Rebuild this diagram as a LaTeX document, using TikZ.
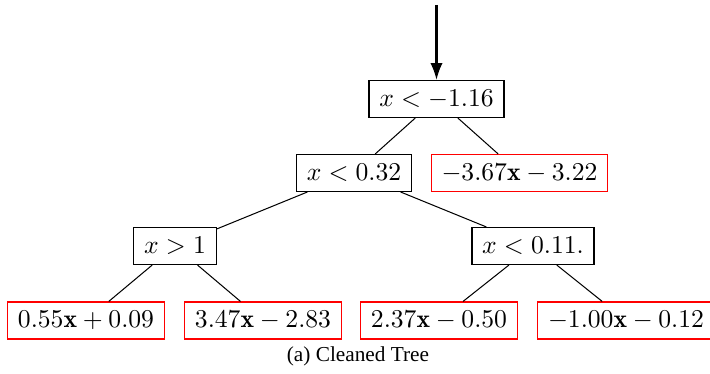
\documentclass[tikz,border=0pt]{standalone}
\usepackage{fontspec}
\newfontfamily\capfont{Liberation Serif}
\usetikzlibrary{arrows.meta}
\begin{document}
\begin{tikzpicture}[x=0.39pt,y=-0.39pt,
  split/.style={draw=black,line width=0.45pt,inner xsep=4pt,minimum height=14.4pt},
  leaf/.style={draw=red,line width=0.45pt,inner xsep=4pt,minimum height=14.4pt},
  edge/.style={draw=black,line width=0.4pt},
  inarrow/.style={draw=black,line width=0.8pt,-{Latex[length=6.6pt,width=4.8pt]}}]
\clip (0,0) rectangle (710,374);
\useasboundingbox (0,0) rectangle (710,374);
\coordinate (top) at (436.5,5);
\node[split] (root) at (436.5,99) {$x<-1.16$};
\node[split] (n1) at (354,173) {$x<0.32$};
\node[leaf] (la) at (519.5,173) {$-3.67\mathbf{x}-3.22$};
\node[split] (n2) at (175,246) {$x>1$};
\node[split] (n3) at (533,246) {$x<0.11.$};
\node[leaf] (l1) at (86,320.5) {$0.55\mathbf{x}+0.09$};
\node[leaf] (l2) at (263,320.5) {$3.47\mathbf{x}-2.83$};
\node[leaf] (l3) at (439,320.5) {$2.37\mathbf{x}-0.50$};
\node[leaf] (l4) at (626,320.5) {$-1.00\mathbf{x}-0.12$};
\node (cap) at (358,356) {\capfont\fontsize{8.3}{10}\selectfont (a) Cleaned Tree};
\draw[inarrow] (top) -- (root);
\draw[edge] (root) -- (n1);
\draw[edge] (root) -- (la);
\draw[edge] (n1) -- (n2);
\draw[edge] (n1) -- (n3);
\draw[edge] (n2) -- (l1);
\draw[edge] (n2) -- (l2);
\draw[edge] (n3) -- (l3);
\draw[edge] (n3) -- (l4);
\end{tikzpicture}
\end{document}
